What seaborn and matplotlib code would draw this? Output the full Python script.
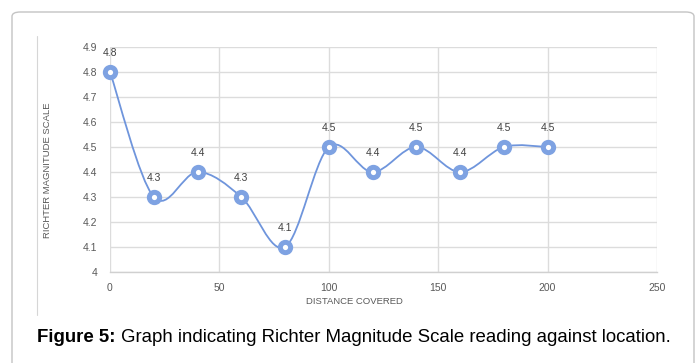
import numpy as np
import matplotlib
matplotlib.use("Agg")
import matplotlib.pyplot as plt
import seaborn as sns
import pandas as pd
from matplotlib.path import Path
from matplotlib.patches import PathPatch, FancyBboxPatch

# ---- data ----
distance = [0, 20, 40, 60, 80, 100, 120, 140, 160, 180, 200]
magnitude = [4.8, 4.3, 4.4, 4.3, 4.1, 4.5, 4.4, 4.5, 4.4, 4.5, 4.5]
x_ticks = [0, 50, 100, 150, 200, 250]
y_ticks = [4.0, 4.1, 4.2, 4.3, 4.4, 4.5, 4.6, 4.7, 4.8, 4.9]
y_tick_labels = ["4", "4.1", "4.2", "4.3", "4.4", "4.5", "4.6", "4.7", "4.8", "4.9"]
x_label = "DISTANCE COVERED"
y_label = "RICHTER MAGNITUDE SCALE"
caption_bold = "Figure 5:"
caption_rest = " Graph indicating Richter Magnitude Scale reading against location."

df = pd.DataFrame({"distance": distance, "magnitude": magnitude})

sns.set_theme(style="white")
plt.rcParams["font.family"] = ["Liberation Sans", "DejaVu Sans"]

W, H = 697, 363
fig = plt.figure(figsize=(W / 100, H / 100), dpi=100)
fig.patch.set_facecolor("white")

# outer rounded frame
frame = FancyBboxPatch((12 / W, -20 / H), (694 - 12) / W, (H - 12 + 20) / H,
                       boxstyle="round,pad=0,rounding_size=0.012",
                       transform=fig.transFigure, fill=False,
                       edgecolor="#c4c4c4", linewidth=1.0)
fig.patches.append(frame)

# inner thin left rule of the chart picture
fig.add_artist(plt.Line2D([37 / W, 37 / W], [1 - 36 / H, 1 - 315 / H],
                          transform=fig.transFigure, color="#d6d6d6", lw=0.8))

left, right, top, bottom = 110, 657, 47, 272
ax = fig.add_axes([left / W, 1 - bottom / H, (right - left) / W, (bottom - top) / H])
ax.set_facecolor("white")

line_color = "#6f95dc"

# smoothed line (Catmull-Rom Bezier through the data points)
xs = np.array(distance, dtype=float)
ys = np.array(magnitude, dtype=float)
px = np.concatenate([[xs[0]], xs, [xs[-1]]])
py = np.concatenate([[ys[0]], ys, [ys[-1]]])
verts = [(xs[0], ys[0])]
codes = [Path.MOVETO]
for i in range(1, len(xs)):
    p0x, p0y = px[i - 1], py[i - 1]
    p1x, p1y = px[i], py[i]
    p2x, p2y = px[i + 1], py[i + 1]
    p3x, p3y = px[i + 2], py[i + 2]
    c1 = (p1x + (p2x - p0x) / 6, p1y + (p2y - p0y) / 6)
    c2 = (p2x - (p3x - p1x) / 6, p2y - (p3y - p1y) / 6)
    verts += [c1, c2, (p2x, p2y)]
    codes += [Path.CURVE4] * 3
ax.add_patch(PathPatch(Path(verts, codes), fill=False, edgecolor=line_color,
                       lw=1.3, zorder=3, transform=ax.transData))

sns.scatterplot(data=df, x="distance", y="magnitude", ax=ax, s=55,
                facecolor="white", edgecolor="#7ea2e2", linewidth=3.6,
                zorder=4, clip_on=False)

for xv, yv in zip(distance, magnitude):
    ax.annotate(f"{yv:.1f}", (xv, yv), xytext=(0, 14), textcoords="offset points",
                ha="center", va="center", fontsize=7.5, color="#404040", zorder=5)

ax.set_xlim(0, 250)
ax.set_ylim(4.0, 4.9)
ax.set_xticks(x_ticks)
ax.set_yticks(y_ticks)
ax.set_yticklabels(y_tick_labels)
ax.tick_params(axis="both", length=0, labelsize=7.5, labelcolor="#595959")
ax.tick_params(axis="y", pad=9)
ax.tick_params(axis="x", pad=8)
ax.grid(True, color="#dcdcdc", linewidth=1.0)
ax.set_axisbelow(True)
for s in ["top", "right", "left"]:
    ax.spines[s].set_visible(False)
ax.spines["bottom"].set_color("#d0d0d0")
ax.spines["bottom"].set_linewidth(1.0)
ax.set_xlabel("")
ax.set_ylabel("")

fig.text(354 / W, 1 - 301 / H, x_label, ha="center", va="center", fontsize=6.8,
         color="#595959", family=["Liberation Sans Narrow", "Liberation Sans", "DejaVu Sans"])
fig.text(48 / W, 1 - 170 / H, y_label, ha="center", va="center", rotation=90,
         fontsize=6.8, color="#595959",
         family=["Liberation Sans Narrow", "Liberation Sans", "DejaVu Sans"])

t1 = fig.text(37 / W, 1 - 338 / H, caption_bold, ha="left", va="center",
              fontsize=13.4, fontweight="bold", color="black")
fig.canvas.draw()
bb = t1.get_window_extent()
fig.text(bb.x1 / W, 1 - 338 / H, caption_rest, ha="left", va="center",
         fontsize=13.4, color="black")

fig.savefig("out.png", dpi=100, facecolor="white")
